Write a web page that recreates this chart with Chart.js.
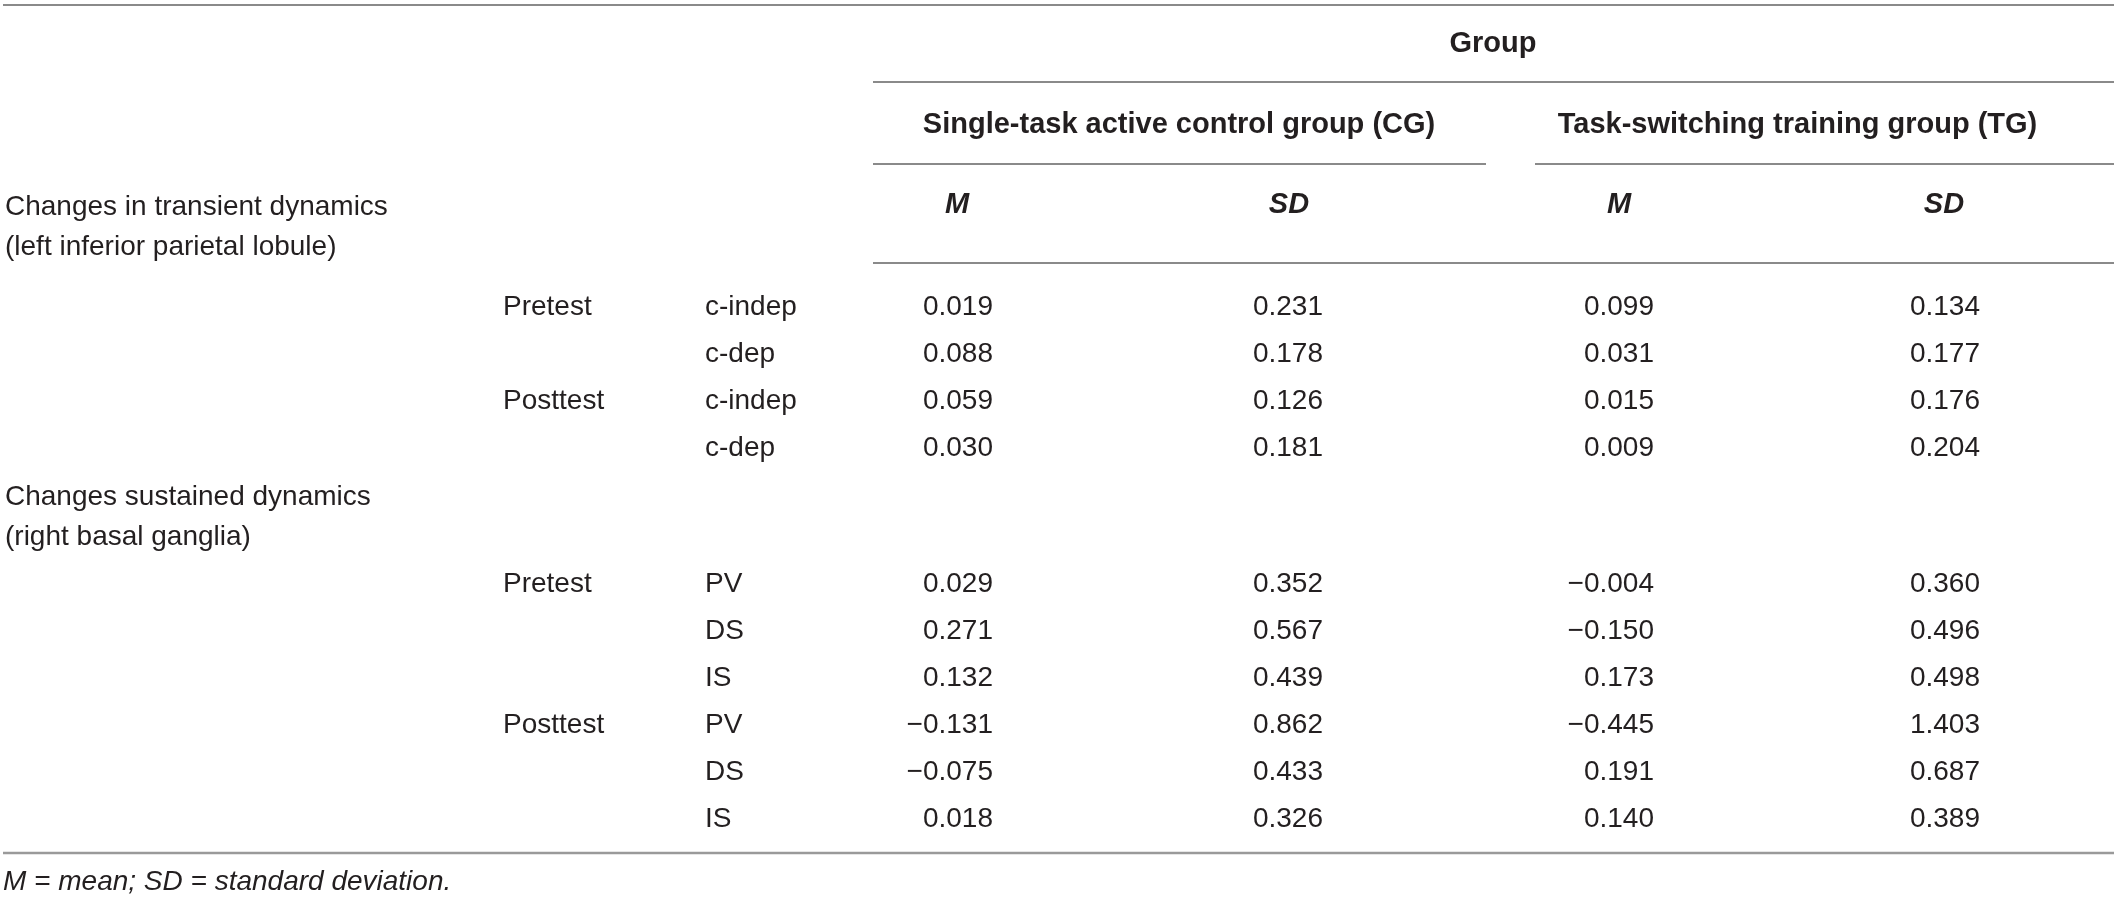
<!DOCTYPE html>
<html>
<head>
<meta charset="utf-8">
<style>
html,body{margin:0;padding:0;background:#ffffff;overflow:hidden}
canvas{display:block}
</style>
<script src="https://cdn.jsdelivr.net/npm/chart.js@4.4.1/dist/chart.umd.min.js"></script>
</head>
<body>
<canvas id="c" width="2117" height="899"></canvas>
<script>
// ---------------- DATA ----------------
const spanner = "Group";
const groups = ["Single-task active control group (CG)", "Task-switching training group (TG)"];
const statHeaders = ["M", "SD", "M", "SD"];
const sections = [
  ["Changes in transient dynamics", "(left inferior parietal lobule)"],
  ["Changes sustained dynamics", "(right basal ganglia)"]
];
const phases = ["Pretest", "Posttest"];
const transientConditions = ["c-indep", "c-dep"];
const sustainedConditions = ["PV", "DS", "IS"];
// rows: transient (Pre c-indep, Pre c-dep, Post c-indep, Post c-dep), sustained (Pre PV, DS, IS, Post PV, DS, IS)
const cgMean = [0.019, 0.088, 0.059, 0.030, 0.029, 0.271, 0.132, -0.131, -0.075, 0.018];
const cgSD   = [0.231, 0.178, 0.126, 0.181, 0.352, 0.567, 0.439, 0.862, 0.433, 0.326];
const tgMean = [0.099, 0.031, 0.015, 0.009, -0.004, -0.150, 0.173, -0.445, 0.191, 0.140];
const tgSD   = [0.134, 0.177, 0.176, 0.204, 0.360, 0.496, 0.498, 1.403, 0.687, 0.389];
const footnote = "M = mean; SD = standard deviation.";

// ---------------- LAYOUT (layout units = pixels of the 2117x899 page) ----------------
const LAYOUT = {
  width: 2117, height: 899,
  colSection: 5, colPhase: 503, colCond: 705,
  valueRight: [993, 1323, 1654, 1980],
  headCenter: [957, 1289, 1619, 1944],
  spannerCenter: 1493,
  groupCenters: [1179, 1797.5],
  ySpanner: 42, yGroup: 123, yHead: 203,
  sectionY: [205, 495],
  blockStart: [305, 582],
  rowStep: 47, lineStep: 40,
  footX: 3, footY: 880,
  ruleLeft: 3, ruleRight: 2114, tableLeft: 873,
  groupRuleSpans: [[873, 1486], [1535, 2114]],
  yTop: 5, ySpannerRule: 82, yGroupRule: 164, yHeadRule: 263, yBottom: 853
};
const FONT_FAMILY = "'Liberation Sans', Arial, Helvetica, sans-serif";
const TEXT_COLOR = "#231f20";
const RULE_COLOR = "#8a8a8a";
const fonts = {
  body: {size: 28, style: "normal", weight: "normal"},
  bold: {size: 29, style: "normal", weight: "bold"},
  boldItalic: {size: 29, style: "italic", weight: "bold"},
  italic: {size: 28, style: "italic", weight: "normal"}
};

function fmt(v) {
  const s = v.toFixed(3);
  return s.charAt(0) === "-" ? "\u2212" + s.slice(1) : s;
}

// ---------------- BUILD DATASETS ----------------
const datasets = [];
function textSet(points, texts, font, align) {
  datasets.push({
    label: "text",
    data: points,
    cellText: texts,
    cellFont: font,
    cellAlign: align,
    pointRadius: 0,
    pointHoverRadius: 0,
    showLine: false,
    clip: false
  });
}
function rule(x1, x2, y, color, width) {
  datasets.push({
    label: "rule",
    data: [{x: x1, y: y}, {x: x2, y: y}],
    showLine: true,
    borderColor: color || RULE_COLOR,
    borderWidth: width || 2,
    pointRadius: 0,
    pointHoverRadius: 0,
    clip: false
  });
}

// rules
rule(LAYOUT.ruleLeft, LAYOUT.ruleRight, LAYOUT.yTop);
rule(LAYOUT.tableLeft, LAYOUT.ruleRight, LAYOUT.ySpannerRule);
LAYOUT.groupRuleSpans.forEach(s => rule(s[0], s[1], LAYOUT.yGroupRule));
rule(LAYOUT.tableLeft, LAYOUT.ruleRight, LAYOUT.yHeadRule);
rule(LAYOUT.ruleLeft, LAYOUT.ruleRight, LAYOUT.yBottom, "#9a9a9a", 2.5);

// headers
textSet([{x: LAYOUT.spannerCenter, y: LAYOUT.ySpanner}], [spanner], fonts.bold, "center");
textSet(groups.map((g, i) => ({x: LAYOUT.groupCenters[i], y: LAYOUT.yGroup})), groups, fonts.bold, "center");
textSet(statHeaders.map((h, i) => ({x: LAYOUT.headCenter[i], y: LAYOUT.yHead})), statHeaders, fonts.boldItalic, "center");

// section labels
sections.forEach((lines, si) => {
  textSet(lines.map((t, li) => ({x: LAYOUT.colSection, y: LAYOUT.sectionY[si] + li * LAYOUT.lineStep})), lines, fonts.body, "left");
});

// body rows
const blocks = [transientConditions, sustainedConditions];
let rowIndex = 0;
const valueCols = [cgMean, cgSD, tgMean, tgSD];
blocks.forEach((conds, bi) => {
  let local = 0;
  phases.forEach(phase => {
    conds.forEach((cond, ci) => {
      const y = LAYOUT.blockStart[bi] + local * LAYOUT.rowStep;
      if (ci === 0) textSet([{x: LAYOUT.colPhase, y: y}], [phase], fonts.body, "left");
      textSet([{x: LAYOUT.colCond, y: y}], [cond], fonts.body, "left");
      textSet(valueCols.map((col, k) => ({x: LAYOUT.valueRight[k], y: y})),
              valueCols.map(col => fmt(col[rowIndex])), fonts.body, "right");
      local++;
      rowIndex++;
    });
  });
});

// footnote
textSet([{x: LAYOUT.footX, y: LAYOUT.footY}], [footnote], fonts.italic, "left");

// ---------------- TEXT PLUGIN ----------------
const cellTextPlugin = {
  id: "cellText",
  afterDatasetsDraw(chart) {
    const ctx = chart.ctx;
    chart.data.datasets.forEach((ds, i) => {
      if (!ds.cellText) return;
      const meta = chart.getDatasetMeta(i);
      const f = ds.cellFont;
      ctx.save();
      ctx.fillStyle = TEXT_COLOR;
      ctx.font = `${f.style} ${f.weight} ${f.size}px ${FONT_FAMILY}`;
      ctx.textAlign = ds.cellAlign;
      ctx.textBaseline = "alphabetic";
      meta.data.forEach((el, j) => {
        ctx.fillText(ds.cellText[j], el.x, el.y + 0.36 * f.size);
      });
      ctx.restore();
    });
  }
};

new Chart(document.getElementById("c"), {
  type: "scatter",
  data: {datasets: datasets},
  options: {
    responsive: false,
    animation: false,
    events: [],
    layout: {padding: 0},
    plugins: {legend: {display: false}, tooltip: {enabled: false}, title: {display: false}},
    scales: {
      x: {type: "linear", min: 0, max: LAYOUT.width, display: false},
      y: {type: "linear", min: 0, max: LAYOUT.height, reverse: true, display: false}
    }
  },
  plugins: [cellTextPlugin]
});
</script>
</body>
</html>
